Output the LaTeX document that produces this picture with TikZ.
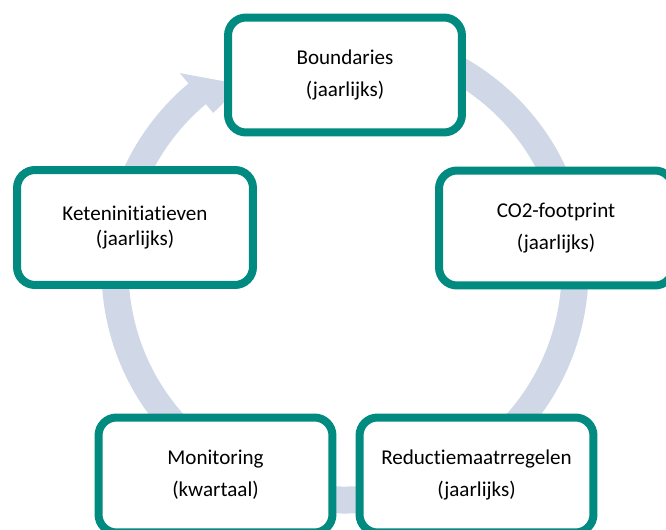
\documentclass[tikz,border=0pt]{standalone}
\usepackage{fontspec}
\setmainfont[Ligatures=NoCommon]{Carlito}
\usepackage{tikz}
\definecolor{cycleteal}{RGB}{0,138,128}
\definecolor{cyclering}{RGB}{208,216,232}

\begin{document}
\begin{tikzpicture}[
	x=0.02cm, y=-0.02cm,
	font=\fontsize{12}{14.5}\selectfont,
	stage/.style = {draw=cycleteal, line width=0.16cm, fill=white,
		rounded corners=0.36cm, minimum width=4.68cm, minimum height=2.3cm,
		align=center, inner sep=2pt},
	ring/.style = {draw=cyclering, line width=0.54cm},
	ringhead/.style = {fill=cyclering}
	]
	\clip (0,0) rectangle (666,530);
	\coordinate (hub) at (345,270);
	\draw [ring] ([shift={(-100:230)}]hub) arc [start angle=-100, end angle=231, radius=230];
	\fill [ringhead] ([shift={(230:257)}]hub) -- ([shift={(241:212)}]hub)
		-- ([shift={(230:205)}]hub) -- cycle;
	\node [stage] (bound) at (345,75) {Boundaries\\[4pt](jaarlijks)};
	\node [stage] (footprint) at (556,228) {CO2-footprint\\[4pt](jaarlijks)};
	\node [stage, minimum width=4.72cm] (keten) at (135,227.5) {Keteninitiatieven\\(jaarlijks)};
	\node [stage] (monitor) at (215.5,475) {Monitoring\\[3.5pt](kwartaal)};
	\node [stage] (reductie) at (476.5,475) {Reductiemaatrregelen\\[3.5pt](jaarlijks)};
\end{tikzpicture}
\end{document}
